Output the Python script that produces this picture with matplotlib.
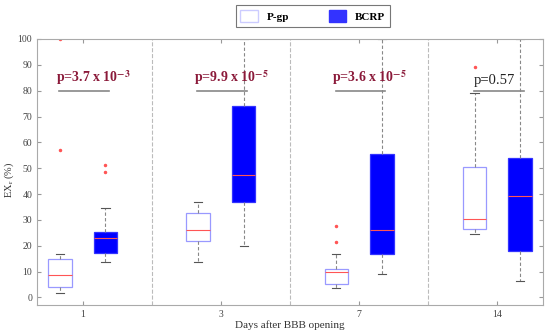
import numpy as np
import matplotlib.pyplot as plt
from matplotlib.patches import Patch

plt.rcParams['font.family'] = ['Liberation Serif', 'DejaVu Serif']
plt.rcParams['mathtext.fontset'] = 'stix'

days = ['1', '3', '7', '14']

# P-gp box stats
pgp_med = [8.8, 26.0, 9.7, 30.4]
pgp_q1 = [3.9, 22.0, 5.3, 26.6]
pgp_q3 = [15.0, 32.6, 11.1, 50.3]
pgp_lo = [1.7, 13.9, 3.6, 24.6]
pgp_hi = [16.8, 37.1, 16.8, 79.0]
pgp_out = [[100.0, 57.0], [], [27.8, 21.6], [89.3]]

# BCRP box stats
bcrp_med = [23.2, 47.2, 26.0, 39.4]
bcrp_q1 = [17.4, 37.1, 16.8, 17.8]
bcrp_q3 = [25.3, 74.1, 55.4, 53.9]
bcrp_lo = [13.7, 20.1, 9.0, 6.5]
bcrp_hi = [34.8, 100.0, 100.0, 100.0]
bcrp_out = [[51.1, 48.5], [], [], []]

p_labels = [r'p=3.7 x 10$^{\mathbf{-3}}$', r'p=9.9 x 10$^{\mathbf{-5}}$',
            r'p=3.6 x 10$^{\mathbf{-5}}$', 'p=0.57']
p_bold = [True, True, True, False]


def make_stats(med, q1, q3, lo, hi, out):
    stats = []
    for i in range(len(med)):
        stats.append(dict(med=med[i], q1=q1[i], q3=q3[i], whislo=lo[i],
                          whishi=hi[i], fliers=out[i]))
    return stats


fig = plt.figure(figsize=(5.5, 3.35), dpi=100)
ax = fig.add_axes([0.0673, 0.0896, 0.92, 0.794])

pos = np.arange(1, len(days) + 1)
off = 0.165
common = dict(widths=0.17, capwidths=0.06, patch_artist=True,
              whiskerprops=dict(color='#888888', linestyle=(0, (3, 2)), linewidth=0.8),
              capprops=dict(color='#555555', linewidth=0.8),
              medianprops=dict(color='#ff5555', linewidth=0.8),
              flierprops=dict(marker='.', markersize=3, markerfacecolor='#ff5555',
                              markeredgecolor='#ff5555', linestyle='none'))

ax.bxp(make_stats(pgp_med, pgp_q1, pgp_q3, pgp_lo, pgp_hi, pgp_out),
       positions=pos - off,
       boxprops=dict(facecolor='white', edgecolor='#9999ff', linewidth=0.9),
       **common)
ax.bxp(make_stats(bcrp_med, bcrp_q1, bcrp_q3, bcrp_lo, bcrp_hi, bcrp_out),
       positions=pos + off,
       boxprops=dict(facecolor='#0000ff', edgecolor='#3333ff', linewidth=0.9),
       **common)

# separators between groups
for x in pos[:-1] + 0.5:
    ax.axvline(x, color='#bbbbbb', linestyle='--', linewidth=0.8, zorder=0)

# p-value annotations
for i, p in enumerate(pos):
    ax.plot([p - 0.17, p + 0.19], [80, 80], color='#888888', linewidth=1.2)
    if p_bold[i]:
        ax.text(p - 0.195, 81.3, p_labels[i], color='#8b1a3a', fontsize=10,
                fontweight='bold', ha='left', va='bottom')
    else:
        ax.text(p - 0.17, 81.3, p_labels[i], color='#222222', fontsize=10.5,
                ha='left', va='bottom')

ax.set_xlim(0.67, 4.33)
ax.set_ylim(-2.9, 100)
ax.set_xticks(pos)
ax.set_xticklabels(days)
ax.set_yticks(np.arange(0, 101, 10))
ax.tick_params(direction='in', top=True, right=True, labelsize=7,
               labelcolor='#444444', color='#999999', length=3)
for s in ax.spines.values():
    s.set_color('#aaaaaa')

ax.set_ylabel(r'EX$_\mathrm{r}$ (%)', fontsize=7.5, color='#333333')
ax.yaxis.set_label_coords(-0.042, 0.47)
ax.set_xlabel('Days after BBB opening', fontsize=8, color='#333333', labelpad=1)

handles = [Patch(facecolor='white', edgecolor='#ccccff', label='P-gp'),
           Patch(facecolor='#3333ff', edgecolor='#3333ff', label='BCRP')]
leg = fig.legend(handles=handles, loc='center', bbox_to_anchor=(0.569, 0.952),
                 ncol=2, fancybox=False, edgecolor='#555555', handlelength=1.6,
                 handleheight=1.4, columnspacing=3.5, borderpad=0.4,
                 prop=dict(family='Liberation Serif', weight='bold', size=8))
leg.get_frame().set_linewidth(0.8)

fig.savefig('out.png', dpi=100)
